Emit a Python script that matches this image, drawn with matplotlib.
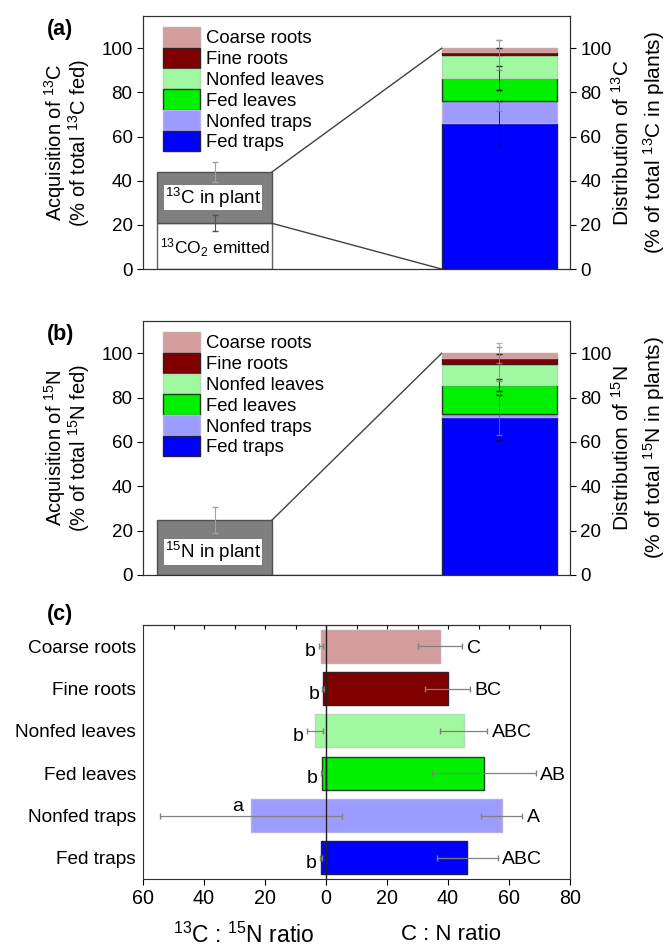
import numpy as np
import matplotlib.pyplot as plt
from matplotlib import transforms
from matplotlib.patches import Patch
from matplotlib.ticker import FuncFormatter

plt.rcParams['font.family'] = ['Liberation Sans', 'DejaVu Sans']
plt.rcParams['mathtext.fontset'] = 'custom'
plt.rcParams['mathtext.rm'] = 'Liberation Sans'
plt.rcParams['mathtext.default'] = 'regular'

# organs, bottom of stack first
organs = ['Fed traps', 'Nonfed traps', 'Fed leaves', 'Nonfed leaves', 'Fine roots', 'Coarse roots']
colors = ['#0000ff', '#9c9cff', '#00f000', '#a0f8a0', '#800000', '#d49c9c']
edges = ['#202040', '#b4b4dc', '#204020', '#b4dcb4', '#302020', '#c8a8a8']

# (a) 13C
c_emitted = 20.7
c_emitted_err = 3.6
c_plant_top = 44.0
c_plant_err = 4.5
c_dist = [66.2, 10.0, 10.3, 10.5, 1.5, 1.5]
c_dist_err = [10.0, 4.5, 5.6, 6.7, 1.5, 3.5]

# (b) 15N
n_plant_top = 24.8
n_plant_err = 6.0
n_dist = [71.1, 1.5, 13.1, 9.5, 2.5, 2.3]
n_dist_err = [10.3, 9.5, 2.6, 7.6, 1.9, 4.5]

# (c) ratios
cn_ratio = [46.3, 57.6, 51.7, 45.2, 39.9, 37.4]
cn_err = [10.0, 6.7, 17.0, 7.7, 7.3, 7.3]
cn_letters = ['ABC', 'A', 'AB', 'ABC', 'BC', 'C']
iso_ratio = [1.6, 24.6, 1.4, 3.6, 0.9, 1.7]
iso_err = [0.4, 29.8, 0.4, 2.7, 0.3, 0.6]
iso_letters = ['b', 'a', 'b', 'b', 'b', 'b']

FS = 13
fig = plt.figure(figsize=(6.67, 9.46), dpi=100)

x_left, x_right = 0.0, 2.474
bw = 1.0


def top_panel(rect, emitted, emitted_err, plant_top, plant_err, dist, dist_err,
              plant_text, emitted_text, ylab_l, ylab_r, tag):
    ax = fig.add_axes(rect)
    # left bar
    if emitted is not None:
        ax.bar(x_left, emitted, bw, color='white', edgecolor='#606060', lw=1)
        ax.bar(x_left, plant_top - emitted, bw, bottom=emitted, color='#7f7f7f', edgecolor='#505050', lw=1)
        ax.errorbar(x_left, emitted, yerr=emitted_err, fmt='none', ecolor='#505050', lw=0.8, capsize=2)
        low = emitted
    else:
        ax.bar(x_left, plant_top, bw, color='#7f7f7f', edgecolor='#505050', lw=1)
        low = 0
    ax.errorbar(x_left, plant_top, yerr=plant_err, fmt='none', ecolor='#a0a0a0', lw=0.8, capsize=2)

    # right stacked bar
    bottom = 0
    tops = []
    for v, col, ec in zip(dist, colors, edges):
        ax.bar(x_right, v, bw, bottom=bottom, color=col, edgecolor=ec, lw=1)
        bottom += v
        tops.append(bottom)
    for t, e, ec in zip(tops, dist_err, ['black', '#808080', 'black', '#808080', 'black', '#a0a0a0']):
        ax.errorbar(x_right, t, yerr=e, fmt='none', ecolor=ec, lw=0.7, capsize=2, alpha=0.8)

    # connecting lines
    ax.plot([x_left + bw / 2, x_right - bw / 2], [plant_top, 100], color='#404040', lw=1)
    ax.plot([x_left + bw / 2, x_right - bw / 2], [low, 0], color='#404040', lw=1)

    ax.text(-0.43, (low + plant_top) / 2 if emitted is not None else 10.5, plant_text,
            fontsize=FS + 0.5, va='center', ha='left',
            bbox=dict(facecolor='white', edgecolor='none', pad=0.5))
    if emitted_text:
        ax.text(-0.47, 9.5, emitted_text, fontsize=FS - 0.5, va='center', ha='left')

    ax.set_xlim(-0.622, 3.09)
    ax.set_ylim(0, 114.6)
    ax.set_xticks([])
    ax.set_yticks(np.arange(0, 101, 20))
    ax.tick_params(axis='y', direction='out', length=4, labelsize=FS + 0.5)
    ax2 = ax.twinx()
    ax2.set_ylim(0, 114.6)
    ax2.set_yticks(np.arange(0, 101, 20))
    ax2.tick_params(axis='y', direction='out', length=4, labelsize=FS + 0.5)
    for a in (ax, ax2):
        for s in a.spines.values():
            s.set_color('#303030')

    handles = [Patch(facecolor=c, edgecolor=e) for c, e in zip(colors, edges)][::-1]
    ax.legend(handles, organs[::-1], loc='upper left', bbox_to_anchor=(0.02, 1.0),
              frameon=False, fontsize=FS + 0.3, handlelength=2.0, handleheight=1.3,
              labelspacing=0.03, handletextpad=0.35, borderaxespad=0.2)

    yc = rect[1] + rect[3] / 2
    for xf, line in zip([0.082, 0.118], ylab_l):
        fig.text(xf, yc, line, rotation=90, ha='center', va='center', fontsize=14.5)
    for xf, line in zip([0.932, 0.980], ylab_r):
        fig.text(xf, yc, line, rotation=90, ha='center', va='center', fontsize=15)
    fig.text(0.070, rect[1] + rect[3] - 0.014, tag, fontsize=15.5, fontweight='bold',
             ha='left', va='center')
    return ax


top_panel([0.2144, 0.7156, 0.6402, 0.2675], c_emitted, c_emitted_err, c_plant_top,
          c_plant_err, c_dist, c_dist_err, '$^{13}$C in plant', '$^{13}$CO$_2$ emitted',
          ['Acquisition of $^{13}$C', '(% of total $^{13}$C fed)'],
          ['Distribution of $^{13}$C', '(% of total $^{13}$C in plants)'], '(a)')

top_panel([0.2144, 0.3922, 0.6402, 0.2685], None, None, n_plant_top,
          n_plant_err, n_dist, n_dist_err, '$^{15}$N in plant', None,
          ['Acquisition of $^{15}$N', '(% of total $^{15}$N fed)'],
          ['Distribution of $^{15}$N', '(% of total $^{15}$N in plants)'], '(b)')

# (c)
axc = fig.add_axes([0.2144, 0.0708, 0.6402, 0.2685])
y = np.arange(len(organs))
bh = 0.78
axc.barh(y, [-v for v in iso_ratio], bh, color=colors, edgecolor=edges, lw=1)
axc.barh(y, cn_ratio, bh, color=colors, edgecolor=edges, lw=1)
axc.errorbar([-v for v in iso_ratio], y, xerr=iso_err, fmt='none', ecolor='#808080',
             lw=0.9, capsize=2)
axc.errorbar(cn_ratio, y, xerr=cn_err, fmt='none', ecolor='#808080', lw=0.9, capsize=2)
axc.axvline(0, color='#202020', lw=1)

for yi, v, e, lab in zip(y, cn_ratio, cn_err, cn_letters):
    axc.text(v + e + 1.5, yi - 0.05, lab, fontsize=FS + 1, ha='left', va='center')
for yi, v, e, lab in zip(y, iso_ratio, iso_err, iso_letters):
    if lab == 'a':
        axc.text(-v - 2.5, yi + 0.02, lab, fontsize=FS + 1, ha='right', va='bottom')
    else:
        axc.text(-v - e - 1.0, yi - 0.13, lab, fontsize=FS + 1, ha='right', va='center')

axc.set_xlim(-60, 80)
axc.set_ylim(-0.5, 5.5)
axc.set_yticks(y)
axc.set_yticklabels(organs, fontsize=FS + 0.7)
axc.tick_params(axis='y', length=0, pad=5)
axc.set_xticks(np.arange(-60, 81, 20))
axc.xaxis.set_major_formatter(FuncFormatter(lambda v, p: '%d' % abs(v)))
axc.tick_params(axis='x', direction='out', length=4, labelsize=FS + 1.2)
top = axc.secondary_xaxis('top')
top.set_xticks(np.arange(-50, 71, 10))
top.tick_params(direction='in', length=3, labeltop=False)
top.set_xticklabels([])
for s in axc.spines.values():
    s.set_color('#303030')

trans = transforms.blended_transform_factory(axc.transData, axc.transAxes)
axc.text(-27, -0.22, '$^{13}$C : $^{15}$N ratio', transform=trans, ha='center',
         va='center', fontsize=16.5)
axc.text(41, -0.22, 'C : N ratio', transform=trans, ha='center', va='center', fontsize=16)
fig.text(0.070, 0.35, '(c)', fontsize=15.5, fontweight='bold', ha='left', va='center')

fig.savefig('out.png', dpi=100)
